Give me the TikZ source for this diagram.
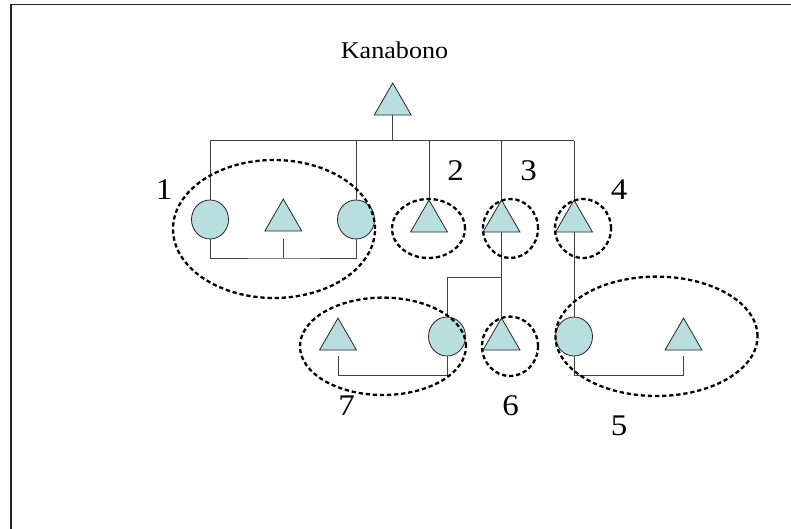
\documentclass[tikz,border=0pt]{standalone}
\usepackage{fontspec}
\setmainfont{Liberation Serif}
\usetikzlibrary{shapes.geometric}
\definecolor{fillc}{RGB}{184,222,224}
\begin{document}
\begin{tikzpicture}[x=1pt,y=-1pt,
  tri/.style={regular polygon, regular polygon sides=3, minimum size=42.7pt,
    inner sep=0pt, outer sep=0pt, draw=black!85, line width=0.8pt, fill=fillc},
  circ/.style={ellipse, minimum width=37pt, minimum height=39pt,
    inner sep=0pt, outer sep=0pt, draw=black!85, line width=0.8pt, fill=fillc},
  grp/.style={ellipse, draw=black, line width=2.3pt, dash pattern=on 4.3pt off 2.8pt,
    inner sep=0pt, outer sep=0pt},
  link/.style={draw=black!75, line width=1pt},
  num/.style={font=\fontsize{30}{34}\selectfont, anchor=base, inner sep=0pt},
  ttl/.style={font=\fontsize{24}{28}\selectfont, anchor=base, inner sep=0pt},
]
\useasboundingbox (0,0) rectangle (791,529);
\draw[line width=1.5pt, black!85] (11,529) -- (11,4.5) -- (791,4.5);

% title
\node[ttl] (title) at (394.5,58.3) {\scalebox{1.09}[1]{Kanabono}};

% shapes
\node[tri] (top) at (392.7,104.4) {};
\node[circ] (c1a) at (210,219.5) {};
\node[tri] (t1) at (283.3,220.4) {};
\node[circ] (c1b) at (356,219.5) {};
\node[tri] (t2) at (429,221.4) {};
\node[tri] (t3) at (501.5,221.4) {};
\node[tri] (t4) at (574,221.4) {};
\node[tri] (t7) at (338,339.4) {};
\node[circ] (c7b) at (447,336.5) {};
\node[tri] (t6) at (501.5,339.4) {};
\node[circ] (c5a) at (574,336.5) {};
\node[tri] (t5) at (683.5,339.4) {};

% connectors
\coordinate (barL) at (210,141);
\coordinate (barR) at (574,141);
\draw[link] (top.side 2) -- (top.side 2 |- barL);
\draw[link] (barL) -- (barR);
\draw[link] (c1a.north) -- (c1a.north |- barL);
\draw[link] (c1b.north) -- (c1b.north |- barL);
\draw[link] (t2.corner 1) -- (t2.corner 1 |- barL);
\draw[link] (t3.corner 1) -- (t3.corner 1 |- barL);
\draw[link] (t4.corner 1) -- (t4.corner 1 |- barL);

\coordinate (b1) at (283.3,258);
\draw[link] (c1a.south) |- (b1) -| (c1b.south);
\draw[link] (b1) -- ++(0,-19);

\draw[link] (t3.side 2) -- (t6.corner 1);
\coordinate (br) at (501.5,277.7);
\draw[link] (br) -| (c7b.north);
\draw[link] (t4.side 2) -- (c5a.north);

\coordinate (b7) at (338,375);
\draw[link] (c7b.south) |- (b7) -- ++(0,-19);
\coordinate (b5) at (683.5,375);
\draw[link] (c5a.south) |- (b5) -- ++(0,-19);

% dashed groups
\node[grp, minimum width=202pt, minimum height=138pt] (g1) at (274,229) {};
\node[grp, minimum width=73pt, minimum height=59pt] (g2) at (428.5,228.5) {};
\node[grp, minimum width=55pt, minimum height=59pt] (g3) at (510.5,228.5) {};
\node[grp, minimum width=56pt, minimum height=59pt] (g4) at (583,228.5) {};
\node[grp, minimum width=166pt, minimum height=97.4pt] (g7) at (383,346.3) {};
\node[grp, minimum width=56pt, minimum height=59.4pt] (g6) at (510,346.3) {};
\node[grp, minimum width=202pt, minimum height=119.4pt] (g5) at (656.5,336.3) {};

% labels
\node[num] (n1) at (164,200) {\scalebox{1.1}[1]{1}};
\node[num] (n2) at (455.5,181) {\scalebox{1.1}[1]{2}};
\node[num] (n3) at (528.7,181) {\scalebox{1.1}[1]{3}};
\node[num] (n4) at (619,200) {\scalebox{1.1}[1]{4}};
\node[num] (n7) at (346.7,415.7) {\scalebox{1.1}[1]{7}};
\node[num] (n6) at (510.5,415.7) {\scalebox{1.1}[1]{6}};
\node[num] (n5) at (619,435) {\scalebox{1.1}[1]{5}};
\end{tikzpicture}
\end{document}
